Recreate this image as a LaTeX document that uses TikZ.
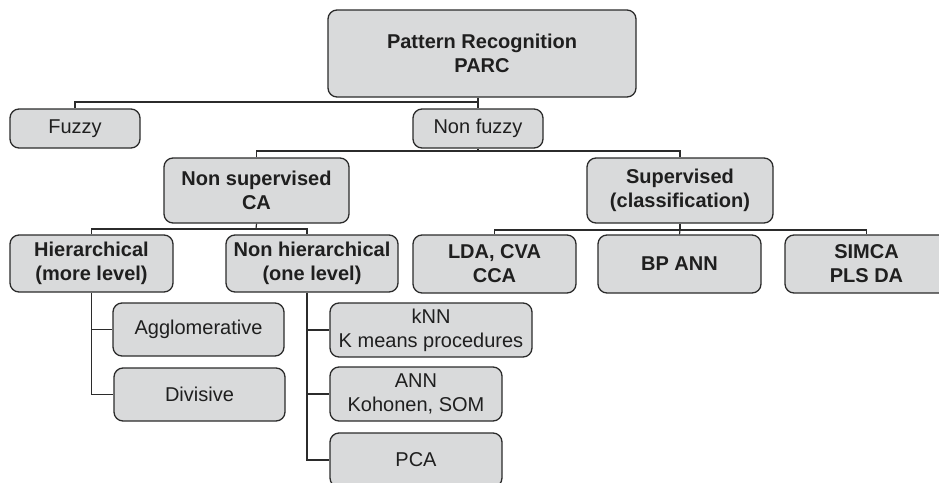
\documentclass[tikz,border=0pt]{standalone}
\usepackage{fontspec}
\setmainfont{Liberation Sans}
\begin{document}
\begin{tikzpicture}[x=1pt,y=-1pt,
  box/.style={draw=boxline,fill=boxfill,rounded corners=9pt,line width=1.3pt,
    inner sep=0pt,align=center,text=black!88,
    font=\fontsize{20}{24}\selectfont},
  boldbox/.style={box,font=\fontsize{20}{24}\selectfont\bfseries},
  link/.style={draw=boxline,line width=1.2pt}]
\definecolor{boxfill}{HTML}{D9DADB}
\definecolor{boxline}{HTML}{2B2B2B}
\useasboundingbox (0,0) rectangle (939,482);
\clip (0,0) rectangle (939,482);

% top level
\node[boldbox,minimum width=308pt,minimum height=87pt] (parc) at (482,53.5) {Pattern Recognition\\PARC};
\node[box,minimum width=130pt,minimum height=39pt] (fuzzy) at (75,128.5) {Fuzzy};
\node[box,minimum width=130pt,minimum height=39pt] (nonfuzzy) at (478,128.5) {Non fuzzy};

% second level
\node[boldbox,minimum width=185pt,minimum height=65pt] (nonsup) at (256.5,190.5) {Non supervised\\CA};
\node[boldbox,minimum width=186pt,minimum height=65pt] (sup) at (680,190.5) {Supervised\\(classification)};

% clustering branch
\node[boldbox,minimum width=163pt,minimum height=57pt] (hier) at (91.5,263.5) {Hierarchical\\(more level)};
\node[boldbox,minimum width=172pt,minimum height=57pt] (nonhier) at (312,263.5) {Non hierarchical\\(one level)};

% classification branch
\node[boldbox,minimum width=163pt,minimum height=58pt] (lda) at (494.5,264) {LDA, CVA\\CCA};
\node[boldbox,minimum width=163pt,minimum height=58pt] (bpann) at (679.5,264) {BP ANN};
\node[boldbox,minimum width=163pt,minimum height=58pt] (simca) at (866.5,264) {SIMCA\\PLS DA};

% leaves
\node[box,minimum width=171pt,minimum height=53pt] (agglo) at (198.5,329.5) {Agglomerative};
\node[box,minimum width=171pt,minimum height=53pt] (divis) at (199.5,394.5) {Divisive};
\node[box,minimum width=202pt,minimum height=54pt] (knn) at (431,330) {kNN\\K means procedures};
\node[box,minimum width=172pt,minimum height=54pt] (ann) at (416,394) {ANN\\Kohonen, SOM};
\node[box,minimum width=172pt,minimum height=54pt] (pca) at (416,460) {PCA};

% bus coordinates
\coordinate (bus1) at (478,102);
\coordinate (bus2) at (478,151);
\coordinate (bus3) at (256,229);
\coordinate (bus4) at (680,230);
\coordinate (nhstem) at (307,229);

% connectors
\draw[link] (parc.south -| nonfuzzy.north) -- (nonfuzzy.north);
\draw[link] (fuzzy.north) |- (bus1);
\draw[link] (nonfuzzy.south) -- (bus2);
\draw[link] (nonsup.north) |- (bus2) -| (sup.north);
\draw[link] (nonsup.south) -- (bus3);
\draw[link] (hier.north) |- (nhstem) -- (nhstem |- nonhier.north);
\draw[link] (sup.south) -- (bus4);
\draw[link] (lda.north) |- (bus4) -| (simca.north);
\draw[link] (bus4) -- (bpann.north);

\draw[link] (hier.south) |- (divis.west);
\draw[link] (hier.south |- agglo.west) -- (agglo.west);
\draw[link] (nhstem |- nonhier.south) |- (pca.west);
\draw[link] (nhstem |- knn.west) -- (knn.west);
\draw[link] (nhstem |- ann.west) -- (ann.west);
\end{tikzpicture}
\end{document}
